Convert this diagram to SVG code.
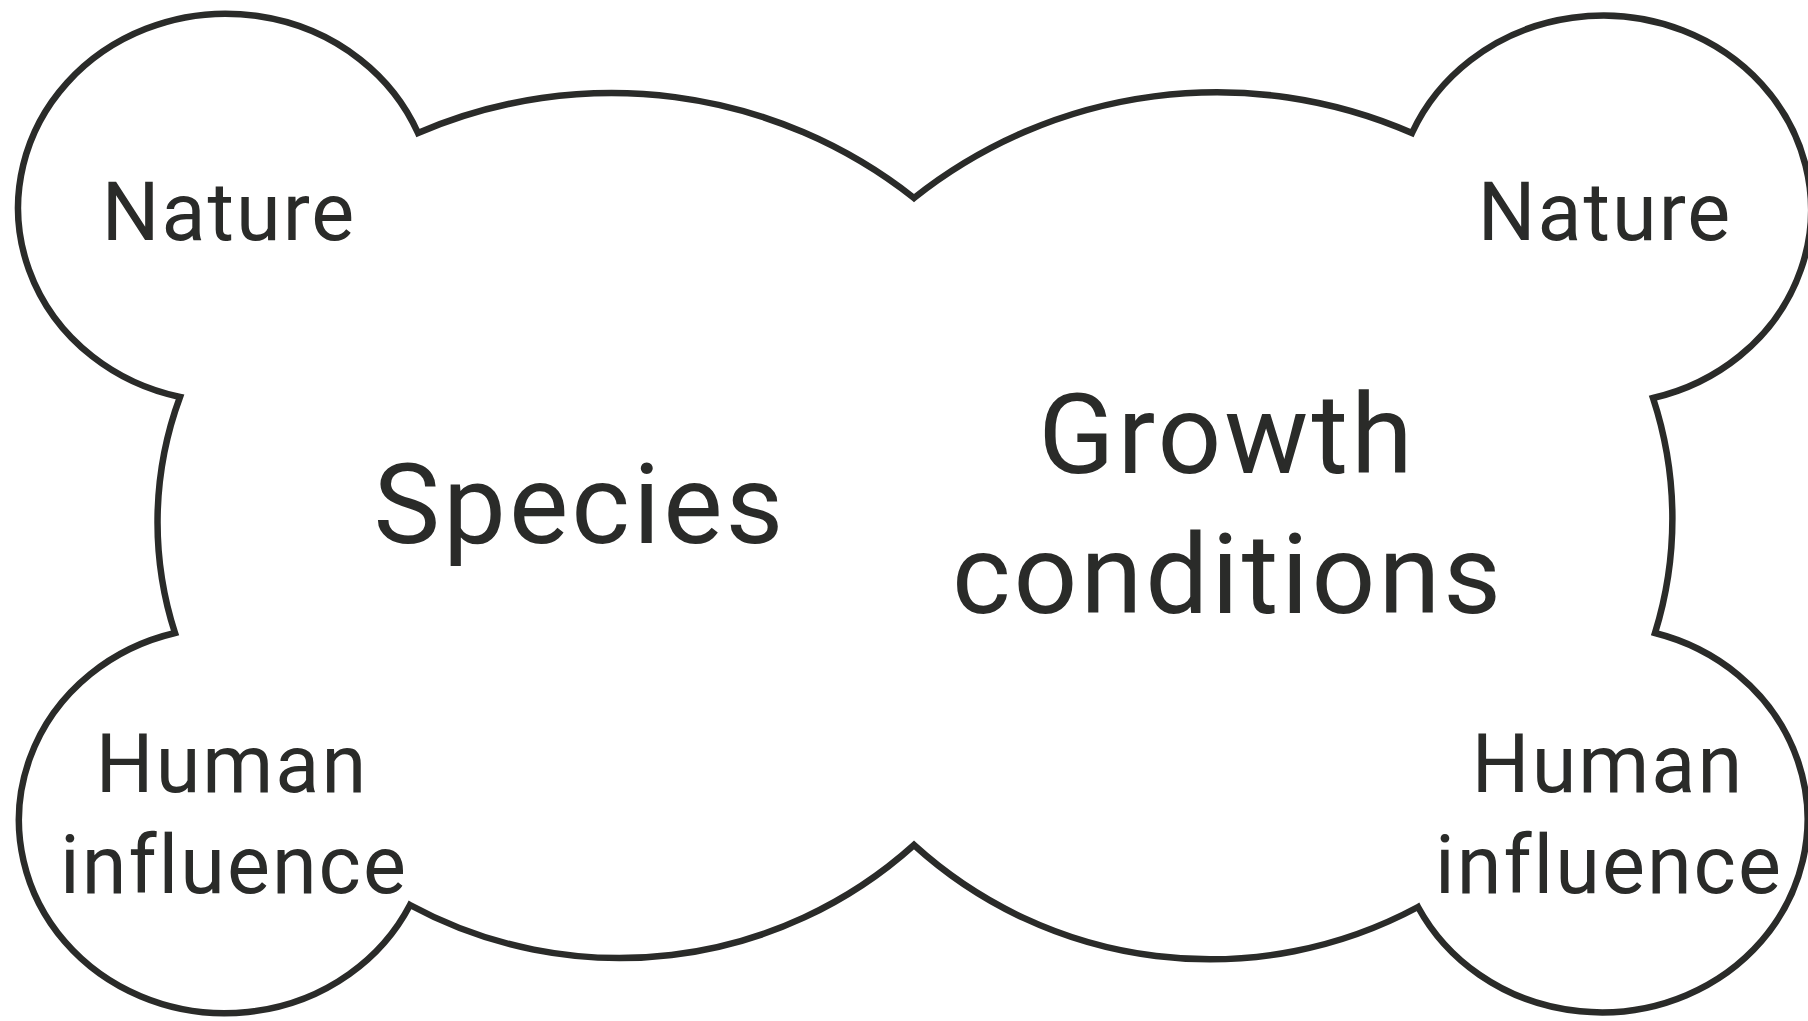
<svg xmlns="http://www.w3.org/2000/svg" width="1808" height="1021" viewBox="0 0 1808 1021">
  <style>
    .outline { fill: #ffffff; stroke: #2a2b29; stroke-width: 6.5; stroke-linejoin: miter; }
    .lbl { font-family: Roboto, "Liberation Sans", sans-serif; fill: #2a2b29; text-anchor: middle; }
    .small { font-size: 81px; letter-spacing: 2px; }
    .big { font-size: 112px; letter-spacing: 3px; }
  </style>
  <rect width="1808" height="1021" fill="#ffffff"/>

  <!-- cloud outline: four corner lobes joined by shallow arcs -->
  <g id="cloud">
    <path class="outline" d="M 180 397
      A 208 194 0 1 1 418 133
      A 488 488 0 0 1 914 198
      A 487 487 0 0 1 1412 133
      A 208 194 0 1 1 1653 398
      A 385 385 0 0 1 1655 633
      A 206 193 0 1 1 1418 907
      A 440 440 0 0 1 914 845
      A 440 440 0 0 1 410 905
      A 206 193 0 1 1 175 633
      A 360 360 0 0 1 180 397 Z"/>
  </g>

  <g id="species">
    <text class="lbl big" x="580" y="543">Species</text>
  </g>
  <g id="growth-conditions">
    <text class="lbl big" x="1227" y="473">Growth</text>
    <text class="lbl big" x="1228" y="613">conditions</text>
  </g>
  <g id="nature-left">
    <text class="lbl small" x="229" y="240">Nature</text>
  </g>
  <g id="nature-right">
    <text class="lbl small" x="1605" y="240">Nature</text>
  </g>
  <g id="human-left">
    <text class="lbl small" x="232" y="792">Human</text>
    <text class="lbl small" x="234" y="893">influence</text>
  </g>
  <g id="human-right">
    <text class="lbl small" x="1608" y="792">Human</text>
    <text class="lbl small" x="1609" y="893">influence</text>
  </g>

  <g id="connectors"></g>
</svg>
